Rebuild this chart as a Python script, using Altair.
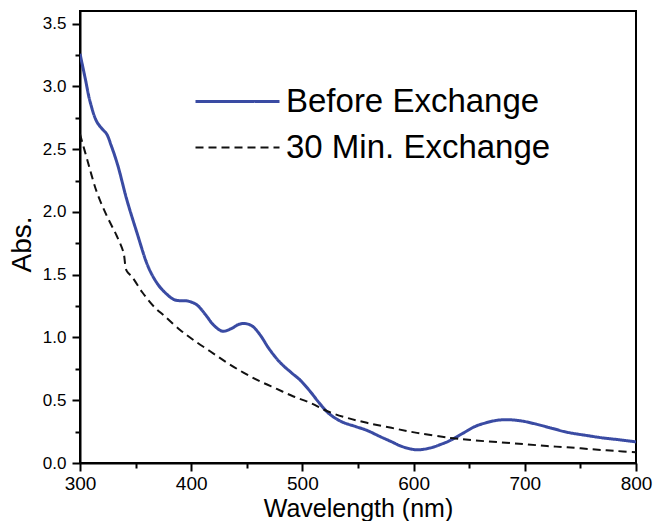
import altair as alt
import pandas as pd

# ---- data ----
series_names = ["Before Exchange", "30 Min. Exchange"]

wl_before = [300, 305, 309, 315, 320, 324, 328, 334, 342, 351, 361, 368, 374, 385, 397,
             405, 413, 420, 428, 436, 443, 449, 455, 462, 470, 480, 490, 498, 507, 515, 523,
             535, 548, 558, 570, 580, 590, 603, 615, 625, 633, 645, 655, 665, 675, 685,
             697, 710, 725, 738, 755, 770, 785, 800]
abs_before = [3.26, 3.05, 2.88, 2.72, 2.66, 2.62, 2.53, 2.37, 2.10, 1.84, 1.57, 1.45, 1.38, 1.30, 1.29,
              1.26, 1.18, 1.10, 1.05, 1.07, 1.105, 1.11, 1.09, 1.02, 0.91, 0.80, 0.72, 0.66, 0.57, 0.48, 0.40,
              0.33, 0.29, 0.26, 0.21, 0.17, 0.13, 0.105, 0.12, 0.15, 0.18, 0.24, 0.29, 0.32, 0.34, 0.345,
              0.335, 0.31, 0.275, 0.245, 0.22, 0.20, 0.185, 0.168]

wl_after = [300, 307, 315, 324, 333, 339, 342, 347, 356, 366, 376, 390, 402, 417, 432, 447,
            462, 477, 492, 507, 523, 540, 558, 580, 603, 633, 655, 678, 700, 720, 738, 760,
            780, 800]
abs_after = [2.62, 2.40, 2.16, 1.97, 1.81, 1.68, 1.53, 1.48, 1.36, 1.25, 1.17, 1.06, 0.98, 0.89, 0.80, 0.72,
             0.65, 0.59, 0.53, 0.48, 0.41, 0.36, 0.32, 0.28, 0.24, 0.20, 0.18, 0.165, 0.15, 0.135, 0.125, 0.11,
             0.097, 0.086]

x_ticks = [300, 350, 400, 450, 500, 550, 600, 650, 700, 750, 800]
y_ticks = [0.0, 0.25, 0.5, 0.75, 1.0, 1.25, 1.5, 1.75, 2.0, 2.25, 2.5, 2.75, 3.0, 3.25, 3.5]

df = pd.concat([
    pd.DataFrame({"wl": wl_before, "abs": abs_before, "series": series_names[0]}),
    pd.DataFrame({"wl": wl_after, "abs": abs_after, "series": series_names[1]}),
])

FONT = "Liberation Sans"
BLUE = "#3a4ba3"

legend = alt.Legend(
    title=None, orient="none", legendX=113, legendY=74,
    symbolType="M-1,0H5", symbolSize=784, symbolStrokeWidth=2.5,
    labelFont=FONT, labelFontSize=33, labelColor="black", labelOffset=60,
    rowPadding=12, padding=0, labelLimit=0,
)

chart = alt.Chart(df).mark_line(interpolate="catmull-rom", clip=True).encode(
    x=alt.X("wl:Q",
            scale=alt.Scale(domain=[300, 800], nice=False, zero=False),
            axis=alt.Axis(values=x_ticks, title="Wavelength (nm)",
                          labelExpr="datum.value % 100 === 0 ? datum.label : ''",
                          tickSize={"condition": {"test": "datum.value % 100 === 0", "value": 8}, "value": 5},
                          labelFontSize=19, labelPadding=3, labelFlush=False, labelOverlap=False,
                          titleFontSize=25, titleBaseline="alphabetic", titleY=53)),
    y=alt.Y("abs:Q",
            scale=alt.Scale(domain=[0, 3.6], nice=False),
            axis=alt.Axis(values=y_ticks, title="Abs.", format=".1f",
                          labelExpr="datum.value % 0.5 === 0 ? datum.label : ''",
                          tickSize={"condition": {"test": "datum.value % 0.5 === 0", "value": 8}, "value": 5},
                          labelFontSize=17, labelPadding=6, labelFlush=False,
                          titleFontSize=28, titleBaseline="alphabetic", titleX=-50, titleY=233,
                          titleAlign="center", titleAngle=270)),
    color=alt.Color("series:N", scale=alt.Scale(domain=series_names, range=[BLUE, "#111111"]), legend=legend),
    strokeDash=alt.StrokeDash("series:N", scale=alt.Scale(domain=series_names, range=[[1, 0], [8, 5]]), legend=legend),
    strokeWidth=alt.StrokeWidth("series:O", scale=alt.Scale(domain=series_names, range=[3, 2]), legend=legend),
).properties(
    width=556, height=452,
    autosize=alt.AutoSizeParams(type="none"),
    padding={"left": 80, "top": 11, "right": 18, "bottom": 58},
    background="white",
).configure_axis(
    grid=False, domainColor="black", domainWidth=2, tickColor="black", tickWidth=2,
    labelFont=FONT, titleFont=FONT, labelColor="black", titleColor="black",
    titleFontWeight="normal",
).configure_view(stroke="black", strokeWidth=2)

chart.save("out.html", embed_options={"renderer": "svg", "actions": False})
